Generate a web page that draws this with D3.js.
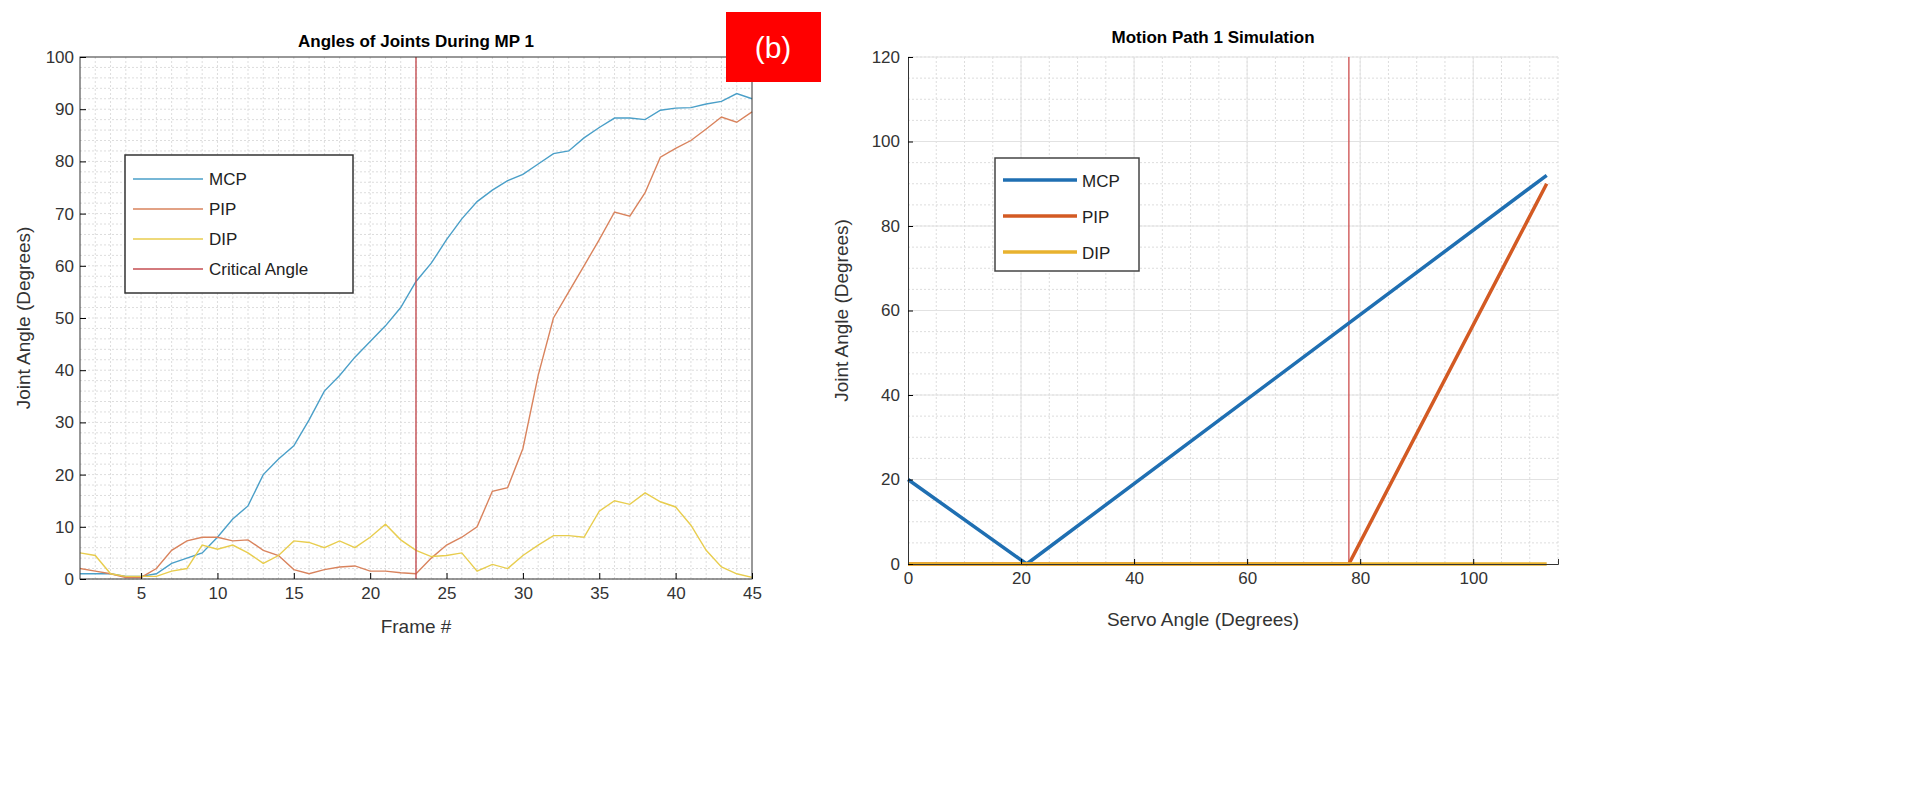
<!DOCTYPE html>
<html><head><meta charset="utf-8">
<script src="https://cdn.jsdelivr.net/npm/d3@7"></script>
<style>body{margin:0;background:#fff;font-family:Arial,"Liberation Sans",sans-serif}</style>
</head><body><svg id="c" width="1927" height="805"></svg>
<script>
const frames = d3.range(1, 46);
const mcp = [1,1,1,0.5,0.5,1,3,4,5,8,11.5,14,20,23,25.5,30.5,36,39,42.5,45.5,48.5,52,57,60.5,65,69,72.3,74.5,76.3,77.5,79.5,81.5,82,84.5,86.5,88.3,88.3,88,89.8,90.2,90.3,91,91.5,93,92];
const pip = [2,1.5,1,0.3,0.3,2,5.5,7.3,8,8,7.3,7.5,5.5,4.5,1.8,1,1.8,2.3,2.5,1.5,1.5,1.2,1,4,6.5,8,10,16.8,17.5,25,39,50,55,60,65,70.3,69.5,74,80.8,82.5,84,86.2,88.5,87.5,89.5];
const dip = [5,4.5,1,0.5,0.5,0.5,1.5,2,6.5,5.7,6.5,5,3,4.5,7.3,7,6,7.3,6,8,10.5,7.5,5.5,4.3,4.5,5,1.5,2.8,2,4.5,6.5,8.3,8.3,8,13,15,14.3,16.5,14.8,13.8,10.3,5.5,2.3,1,0.3];
const criticalFrame = 23;
const xTicksL = [5,10,15,20,25,30,35,40,45];
const yTicksL = d3.range(0, 101, 10);

const servo = [0, 21, 78, 113];
const simMcp = [20, 0, 57, 92];
const simPip = [0, 0, 0, 90];
const simDip = [0, 0, 0, 0];
const criticalServo = 78;
const xTicksR = [0,20,40,60,80,100];
const yTicksR = [0,20,40,60,80,100,120];

const svg = d3.select("#c");

function grid(g, x, y, xs, ys, w, h) {
  g.selectAll(".gx").data(xs).join("line").attr("x1", x).attr("x2", x).attr("y1", 0).attr("y2", h)
    .attr("stroke", "#ddd").attr("stroke-dasharray", "2,2");
  g.selectAll(".gy").data(ys).join("line").attr("y1", y).attr("y2", y).attr("x1", 0).attr("x2", w)
    .attr("stroke", "#ddd").attr("stroke-dasharray", "2,2");
}

// left chart
{
  const m = {left: 80, top: 57}, w = 672, h = 522;
  const x = d3.scaleLinear().domain([1, 45]).range([0, w]);
  const y = d3.scaleLinear().domain([0, 100]).range([h, 0]);
  const g = svg.append("g").attr("transform", `translate(${m.left},${m.top})`);
  grid(g.append("g"), d => x(d), d => y(d), d3.range(2, 45, 1), d3.range(0, 100, 2), w, h);
  const ln = d3.line().x((d, i) => x(frames[i])).y(d => y(d));
  [[mcp, "#4a9fc8"], [pip, "#d9835d"], [dip, "#e8cd4e"]].forEach(([s, c]) =>
    g.append("path").attr("d", ln(s)).attr("fill", "none").attr("stroke", c).attr("stroke-width", 1.4));
  g.append("line").attr("x1", x(criticalFrame)).attr("x2", x(criticalFrame)).attr("y1", 0).attr("y2", h)
    .attr("stroke", "#c44e52").attr("stroke-width", 1.4);
  g.append("rect").attr("width", w).attr("height", h).attr("fill", "none").attr("stroke", "#333");
  g.append("g").attr("transform", `translate(0,${h})`).call(d3.axisBottom(x).tickValues(xTicksL).tickSize(-6).tickPadding(8))
    .call(a => a.select(".domain").remove()).selectAll("text").attr("font-size", 17).attr("fill", "#333");
  g.append("g").call(d3.axisLeft(y).tickValues(yTicksL).tickSize(-6).tickPadding(6))
    .call(a => a.select(".domain").remove()).selectAll("text").attr("font-size", 17).attr("fill", "#333");
  g.append("text").attr("x", w / 2).attr("y", -10).attr("text-anchor", "middle").attr("font-weight", "bold").attr("font-size", 17).text("Angles of Joints During MP 1");
  g.append("text").attr("x", w / 2).attr("y", h + 54).attr("text-anchor", "middle").attr("font-size", 19).attr("fill", "#333").text("Frame #");
  g.append("text").attr("transform", `translate(-50,${h / 2}) rotate(-90)`).attr("text-anchor", "middle").attr("font-size", 19).attr("fill", "#333").text("Joint Angle (Degrees)");
  const lg = g.append("g").attr("transform", "translate(45,98)");
  lg.append("rect").attr("width", 228).attr("height", 138).attr("fill", "#fff").attr("stroke", "#333").attr("stroke-width", 1.5);
  [["MCP", "#4a9fc8"], ["PIP", "#d9835d"], ["DIP", "#e8cd4e"], ["Critical Angle", "#c44e52"]].forEach(([t, c], i) => {
    lg.append("line").attr("x1", 8).attr("x2", 78).attr("y1", 24 + i * 30).attr("y2", 24 + i * 30).attr("stroke", c).attr("stroke-width", 1.5);
    lg.append("text").attr("x", 84).attr("y", 30 + i * 30).attr("font-size", 17).attr("fill", "#222").text(t);
  });
}

// badge
svg.append("rect").attr("x", 726).attr("y", 12).attr("width", 95).attr("height", 70).attr("fill", "#ff0000");
svg.append("text").attr("x", 773).attr("y", 58).attr("text-anchor", "middle").attr("fill", "#fff").attr("font-size", 30).text("(b)");

// right chart
{
  const m = {left: 908, top: 57}, w = 650, h = 507;
  const x = d3.scaleLinear().domain([0, 115]).range([0, w]);
  const y = d3.scaleLinear().domain([0, 120]).range([h, 0]);
  const g = svg.append("g").attr("transform", `translate(${m.left},${m.top})`);
  grid(g.append("g"), d => x(d), d => y(d), d3.range(5, 116, 5), d3.range(5, 121, 5), w, h);
  g.selectAll(".gm").data(d3.range(20, 121, 20)).join("line").attr("y1", d => y(d)).attr("y2", d => y(d)).attr("x1", 0).attr("x2", w).attr("stroke", "#e2e2e2");
  g.selectAll(".gn").data(d3.range(20, 101, 20)).join("line").attr("x1", d => x(d)).attr("x2", d => x(d)).attr("y1", 0).attr("y2", h).attr("stroke", "#e2e2e2");
  g.append("line").attr("x1", x(criticalServo)).attr("x2", x(criticalServo)).attr("y1", 0).attr("y2", h).attr("stroke", "#d05a5a").attr("stroke-width", 1.4);
  const ln = d3.line().x((d, i) => x(servo[i])).y(d => y(d));
  [[simMcp, "#1f6fb2"], [simPip, "#d35a23"], [simDip, "#e8b22e"]].forEach(([s, c]) =>
    g.append("path").attr("d", ln(s)).attr("fill", "none").attr("stroke", c).attr("stroke-width", 3.5));
  g.append("g").attr("transform", `translate(0,${h})`).call(d3.axisBottom(x).tickValues(xTicksR).tickSize(-5).tickPadding(8))
    .call(a => a.select(".domain").attr("stroke", "#333")).selectAll("text").attr("font-size", 17).attr("fill", "#333");
  g.append("g").call(d3.axisLeft(y).tickValues(yTicksR).tickSize(-5).tickPadding(8))
    .call(a => a.select(".domain").attr("stroke", "#333")).selectAll("text").attr("font-size", 17).attr("fill", "#333");
  g.append("text").attr("x", w / 2 - 20).attr("y", -14).attr("text-anchor", "middle").attr("font-weight", "bold").attr("font-size", 17).text("Motion Path 1 Simulation");
  g.append("text").attr("x", w / 2 - 30).attr("y", h + 62).attr("text-anchor", "middle").attr("font-size", 19).attr("fill", "#333").text("Servo Angle (Degrees)");
  g.append("text").attr("transform", `translate(-60,${h / 2}) rotate(-90)`).attr("text-anchor", "middle").attr("font-size", 19).attr("fill", "#333").text("Joint Angle (Degrees)");
  const lg = g.append("g").attr("transform", "translate(87,101)");
  lg.append("rect").attr("width", 144).attr("height", 113).attr("fill", "#fff").attr("stroke", "#444").attr("stroke-width", 1.5);
  [["MCP", "#1f6fb2"], ["PIP", "#d35a23"], ["DIP", "#e8b22e"]].forEach(([t, c], i) => {
    lg.append("line").attr("x1", 8).attr("x2", 82).attr("y1", 22 + i * 36).attr("y2", 22 + i * 36).attr("stroke", c).attr("stroke-width", 3.5);
    lg.append("text").attr("x", 87).attr("y", 29 + i * 36).attr("font-size", 17).attr("fill", "#222").text(t);
  });
}
</script></body></html>
